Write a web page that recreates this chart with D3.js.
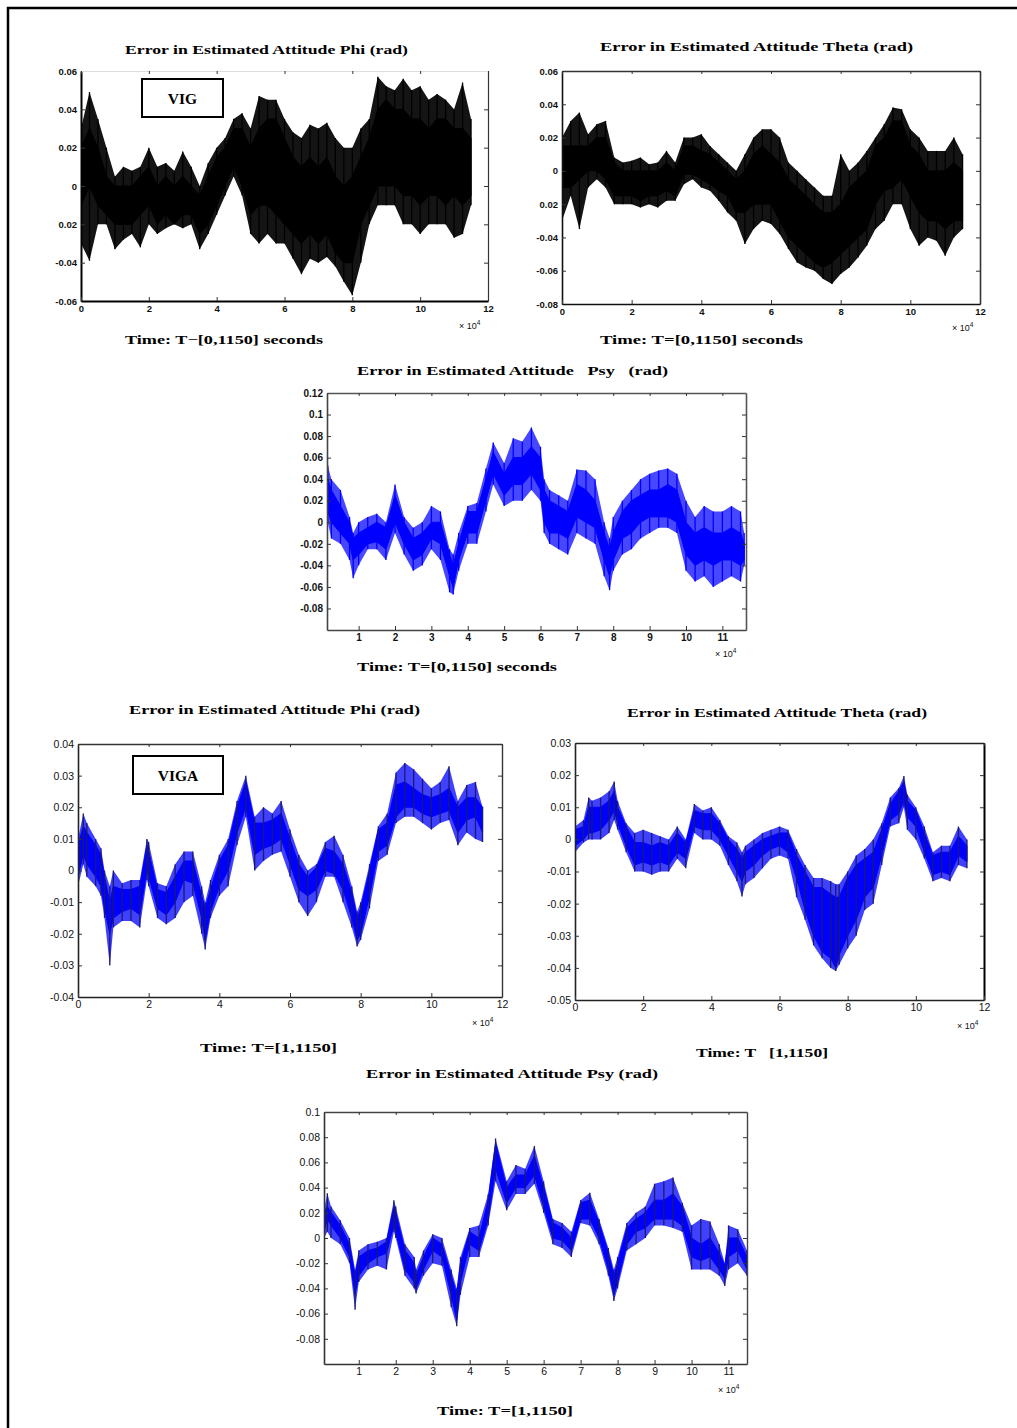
<!DOCTYPE html>
<html>
<head>
<meta charset="utf-8">
<script src="https://cdn.jsdelivr.net/npm/d3@7"></script>
<style>
  body { margin: 0; background: #fff; }
  svg { display: block; }
</style>
</head>
<body>
<svg id="fig" width="1017" height="1428"></svg>
<script>
// ---- data (time in units of 1e4, error in rad) ----
// lo/hi = dense noise band, min/max = spike extremes around each sample

// VIG, Phi
const vigPhiT = [0,0.25,0.5,0.75,1,1.25,1.5,1.75,2,2.25,2.5,2.75,3,3.25,3.5,3.75,4,4.25,4.5,4.75,5,5.25,5.5,5.75,6,6.25,6.5,6.75,7,7.25,7.5,7.75,8,8.25,8.5,8.75,9,9.25,9.5,9.75,10,10.25,10.5,10.75,11,11.25,11.5];
const vigPhiLo = [-0.01,0,-0.01,-0.015,-0.02,-0.02,-0.02,-0.015,-0.01,-0.02,-0.015,-0.02,-0.015,-0.015,-0.025,-0.02,-0.01,0,0.01,0,-0.015,-0.01,-0.01,-0.015,-0.02,-0.025,-0.03,-0.025,-0.03,-0.025,-0.035,-0.04,-0.04,-0.02,-0.01,0,0,0,-0.005,-0.005,-0.01,-0.005,-0.005,-0.01,-0.005,-0.01,-0.005];
const vigPhiHi = [0.02,0.03,0.02,0.005,0,0,0,0.005,0.01,0,0.005,0,0.005,0,-0.005,0.005,0.015,0.02,0.03,0.03,0.02,0.03,0.035,0.035,0.025,0.015,0.01,0.015,0.01,0.015,0.005,0,0.005,0.015,0.025,0.04,0.045,0.04,0.04,0.035,0.035,0.03,0.035,0.035,0.03,0.03,0.025];
const vigPhiMin = [-0.03,-0.039,-0.02,-0.02,-0.033,-0.028,-0.025,-0.032,-0.02,-0.025,-0.022,-0.02,-0.022,-0.02,-0.033,-0.025,-0.015,-0.005,0.005,-0.005,-0.025,-0.03,-0.025,-0.03,-0.03,-0.038,-0.046,-0.038,-0.04,-0.037,-0.042,-0.05,-0.057,-0.04,-0.02,-0.01,-0.01,-0.01,-0.02,-0.02,-0.025,-0.02,-0.02,-0.02,-0.027,-0.025,-0.01];
const vigPhiMax = [0.03,0.049,0.035,0.02,0.005,0.01,0.008,0.01,0.02,0.01,0.012,0.008,0.018,0.01,0,0.012,0.02,0.025,0.035,0.038,0.03,0.047,0.045,0.045,0.035,0.028,0.025,0.032,0.03,0.033,0.025,0.02,0.02,0.03,0.035,0.057,0.052,0.05,0.056,0.05,0.052,0.045,0.048,0.045,0.04,0.054,0.035];

// VIG, Theta
const vigThetaT = [0,0.25,0.5,0.75,1,1.25,1.5,1.75,2,2.25,2.5,2.75,3,3.25,3.5,3.75,4,4.25,4.5,4.75,5,5.25,5.5,5.75,6,6.25,6.5,6.75,7,7.25,7.5,7.75,8,8.25,8.5,8.75,9,9.25,9.5,9.75,10,10.25,10.5,10.75,11,11.25,11.5];
const vigThetaLo = [-0.01,-0.01,-0.005,0,0,-0.005,-0.015,-0.015,-0.015,-0.018,-0.015,-0.015,-0.012,-0.015,-0.002,-0.002,-0.005,-0.008,-0.012,-0.015,-0.025,-0.025,-0.02,-0.02,-0.02,-0.03,-0.04,-0.045,-0.05,-0.055,-0.058,-0.055,-0.05,-0.045,-0.04,-0.035,-0.02,-0.012,-0.01,-0.005,-0.015,-0.025,-0.03,-0.03,-0.035,-0.03,-0.03];
const vigThetaHi = [0.015,0.015,0.015,0.015,0.02,0.02,0.005,0,0,0,0,0,0.005,0,0.015,0.015,0.012,0.01,0.005,0,-0.005,0,0.01,0.015,0.01,0.005,-0.005,-0.01,-0.015,-0.02,-0.025,-0.025,-0.02,-0.01,-0.005,0,0.015,0.02,0.03,0.03,0.015,0.01,0,0,0,0.005,0];
const vigThetaMin = [-0.03,-0.015,-0.035,-0.01,-0.005,-0.01,-0.02,-0.02,-0.02,-0.022,-0.02,-0.022,-0.018,-0.018,-0.008,-0.005,-0.01,-0.012,-0.018,-0.025,-0.03,-0.044,-0.035,-0.03,-0.032,-0.038,-0.047,-0.055,-0.058,-0.06,-0.065,-0.068,-0.062,-0.058,-0.052,-0.045,-0.035,-0.03,-0.02,-0.02,-0.035,-0.045,-0.04,-0.042,-0.051,-0.04,-0.035];
const vigThetaMax = [0.02,0.03,0.035,0.022,0.028,0.03,0.008,0.005,0.006,0.008,0.004,0.005,0.012,0.005,0.02,0.02,0.022,0.015,0.01,0.005,0,0.01,0.02,0.025,0.025,0.02,0.005,0,-0.005,-0.01,-0.015,-0.015,0.01,0,0.005,0.012,0.02,0.028,0.038,0.037,0.025,0.02,0.012,0.012,0.012,0.02,0.01];

// VIG, Psy
const vigPsyT = [0.15,0.25,0.5,0.75,0.85,1,1.25,1.5,1.75,2,2.25,2.5,2.75,3,3.25,3.5,3.6,3.75,4,4.25,4.5,4.7,5,5.25,5.5,5.75,6,6.1,6.25,6.5,6.75,7,7.25,7.5,7.75,7.9,8,8.25,8.5,8.75,9,9.25,9.5,9.75,10,10.25,10.5,10.75,11,11.25,11.5,11.6];
const vigPsyLo = [0.01,0,-0.01,-0.02,-0.035,-0.03,-0.02,-0.018,-0.025,0,-0.02,-0.035,-0.03,-0.015,-0.02,-0.05,-0.06,-0.035,-0.01,-0.01,0.02,0.045,0.025,0.035,0.035,0.045,0.03,0,-0.01,-0.01,-0.015,0.005,0,-0.005,-0.035,-0.05,-0.035,-0.015,-0.01,0,0.005,0.005,0.005,0,-0.03,-0.04,-0.035,-0.04,-0.035,-0.035,-0.04,-0.035];
const vigPsyHi = [0.04,0.03,0.015,0,-0.015,-0.01,-0.005,0,-0.005,0.025,0,-0.015,-0.01,0,0,-0.03,-0.04,-0.02,0.01,0.01,0.04,0.065,0.045,0.06,0.06,0.07,0.06,0.03,0.02,0.015,0.01,0.035,0.03,0.02,-0.01,-0.025,-0.01,0.01,0.02,0.025,0.03,0.03,0.035,0.03,0,-0.01,-0.005,-0.01,-0.01,-0.005,-0.01,-0.02];
const vigPsyMin = [0,-0.015,-0.02,-0.035,-0.052,-0.04,-0.025,-0.025,-0.035,-0.01,-0.03,-0.045,-0.04,-0.025,-0.035,-0.065,-0.067,-0.045,-0.02,-0.02,0.01,0.035,0.015,0.02,0.02,0.03,0.02,-0.01,-0.02,-0.025,-0.03,-0.01,-0.015,-0.02,-0.05,-0.063,-0.045,-0.03,-0.025,-0.015,-0.01,-0.005,-0.005,-0.01,-0.045,-0.055,-0.05,-0.06,-0.055,-0.05,-0.055,-0.04];
const vigPsyMax = [0.053,0.04,0.03,0.005,-0.01,0,0.005,0.008,0,0.035,0.005,-0.005,0,0.015,0.01,-0.025,-0.03,-0.01,0.015,0.018,0.05,0.074,0.055,0.078,0.075,0.088,0.07,0.04,0.03,0.025,0.02,0.049,0.048,0.04,0,-0.015,0.005,0.02,0.03,0.04,0.045,0.048,0.05,0.045,0.02,0.005,0.015,0.01,0.01,0.015,0.01,-0.01];

// VIGA, Phi
const vigaPhiT = [0,0.15,0.25,0.5,0.65,0.75,0.9,1,1.25,1.5,1.75,1.95,2,2.25,2.5,2.75,3,3.25,3.5,3.6,3.75,4,4.25,4.5,4.75,5,5.25,5.5,5.75,6,6.25,6.5,6.75,7,7.25,7.5,7.75,7.9,8,8.25,8.5,8.75,9,9.25,9.5,9.75,10,10.25,10.5,10.75,11,11.25,11.45];
const vigaPhiLo = [-0.002,0.005,0.002,-0.002,-0.005,-0.012,-0.02,-0.015,-0.013,-0.012,-0.014,0,-0.002,-0.012,-0.014,-0.01,-0.003,-0.004,-0.015,-0.022,-0.013,-0.005,0,0.012,0.02,0.005,0.007,0.008,0.01,0.002,-0.006,-0.008,-0.006,0,-0.001,-0.006,-0.015,-0.022,-0.02,-0.008,0.006,0.008,0.017,0.02,0.02,0.018,0.017,0.018,0.019,0.012,0.016,0.017,0.012];
const vigaPhiHi = [0.008,0.014,0.012,0.008,0.005,-0.002,-0.01,-0.005,-0.006,-0.006,-0.005,0.008,0.006,-0.006,-0.007,-0.002,0.003,0.003,-0.008,-0.012,-0.006,0.003,0.008,0.02,0.028,0.015,0.015,0.016,0.018,0.01,0.002,-0.002,0.001,0.007,0.006,0.002,-0.007,-0.015,-0.012,0,0.013,0.015,0.027,0.028,0.026,0.024,0.023,0.024,0.026,0.02,0.023,0.023,0.02];
const vigaPhiMin = [-0.005,0.002,-0.002,-0.005,-0.008,-0.015,-0.03,-0.018,-0.016,-0.016,-0.018,-0.003,-0.005,-0.015,-0.017,-0.015,-0.01,-0.008,-0.02,-0.025,-0.015,-0.008,-0.005,0.008,0.017,0,0.003,0.005,0.006,-0.002,-0.01,-0.0144,-0.01,-0.002,-0.002,-0.01,-0.018,-0.024,-0.022,-0.012,0.003,0.005,0.015,0.017,0.017,0.015,0.013,0.015,0.016,0.008,0.012,0.01,0.009];
const vigaPhiMax = [0.01,0.018,0.015,0.01,0.007,0,-0.005,0,-0.004,-0.003,-0.003,0.01,0.009,-0.004,-0.005,0.002,0.006,0.006,-0.005,-0.01,-0.003,0.005,0.01,0.022,0.03,0.017,0.02,0.018,0.022,0.013,0.005,0,0.002,0.009,0.011,0.005,-0.005,-0.013,-0.01,0.002,0.014,0.018,0.031,0.034,0.032,0.029,0.026,0.028,0.033,0.022,0.027,0.028,0.02];

// VIGA, Theta
const vigaThetaT = [0,0.25,0.4,0.5,0.75,1,1.15,1.25,1.5,1.75,2,2.25,2.5,2.75,3,3.25,3.5,3.75,4,4.25,4.5,4.75,4.9,5,5.25,5.5,5.75,6,6.25,6.5,6.75,7,7.25,7.5,7.65,7.75,8,8.25,8.5,8.75,9,9.25,9.5,9.65,9.75,10,10.25,10.5,10.75,11,11.25,11.5];
const vigaThetaLo = [-0.002,0,0.002,0.002,0.003,0.006,0.009,0.005,-0.002,-0.008,-0.007,-0.008,-0.007,-0.008,-0.004,-0.006,0.004,0.003,0.003,0,-0.005,-0.01,-0.013,-0.01,-0.008,-0.005,-0.003,-0.002,-0.004,-0.012,-0.022,-0.03,-0.035,-0.037,-0.04,-0.036,-0.03,-0.025,-0.018,-0.015,-0.005,0.006,0.008,0.012,0.007,0.004,-0.004,-0.011,-0.01,-0.011,-0.005,-0.007];
const vigaThetaHi = [0.003,0.004,0.01,0.01,0.01,0.012,0.015,0.01,0.004,-0.001,-0.001,-0.002,-0.001,-0.002,0.002,-0.001,0.009,0.008,0.008,0.005,0,-0.003,-0.006,-0.004,-0.002,0,0.001,0.002,0.002,-0.005,-0.01,-0.015,-0.015,-0.017,-0.018,-0.018,-0.012,-0.008,-0.006,-0.004,0.003,0.011,0.015,0.018,0.012,0.009,0.002,-0.005,-0.004,-0.004,0.001,-0.002];
const vigaThetaMin = [-0.004,-0.001,0,0,0,0.002,0.006,0.003,-0.004,-0.01,-0.01,-0.011,-0.01,-0.01,-0.006,-0.009,0.002,0,0,-0.002,-0.008,-0.013,-0.0178,-0.014,-0.012,-0.009,-0.006,-0.005,-0.006,-0.018,-0.025,-0.033,-0.037,-0.04,-0.041,-0.039,-0.034,-0.03,-0.022,-0.02,-0.008,0.004,0.005,0.01,0.003,0,-0.006,-0.013,-0.012,-0.013,-0.008,-0.009];
const vigaThetaMax = [0.004,0.006,0.013,0.012,0.013,0.015,0.018,0.012,0.005,0.002,0.003,0.002,0.001,0,0.004,0,0.011,0.009,0.01,0.006,0.001,-0.001,-0.004,-0.002,0,0.002,0.003,0.004,0.003,-0.003,-0.008,-0.012,-0.012,-0.013,-0.014,-0.014,-0.01,-0.005,-0.003,0,0.005,0.013,0.016,0.0197,0.014,0.01,0.004,-0.004,-0.002,-0.002,0.004,0];

// VIGA, Psy
const vigaPsyT = [0.06,0.15,0.25,0.5,0.75,0.9,1,1.25,1.5,1.75,1.95,2,2.25,2.5,2.55,2.75,3,3.25,3.5,3.65,3.75,4,4.25,4.5,4.7,5,5.25,5.5,5.75,6,6.25,6.5,6.75,7,7.25,7.5,7.75,7.9,8,8.25,8.5,8.75,9,9.25,9.5,9.75,10,10.25,10.5,10.75,10.9,11,11.25,11.5];
const vigaPsyLo = [0.005,0.015,0.01,0,-0.015,-0.045,-0.03,-0.02,-0.015,-0.012,0.01,0.005,-0.025,-0.035,-0.04,-0.025,-0.01,-0.015,-0.045,-0.065,-0.035,-0.005,-0.01,0.015,0.055,0.028,0.04,0.04,0.05,0.025,0,-0.002,-0.01,0.015,0.015,0,-0.025,-0.045,-0.035,-0.005,0.005,0.008,0.015,0.015,0.015,0.01,-0.015,-0.018,-0.015,-0.025,-0.032,-0.015,-0.01,-0.025];
const vigaPsyHi = [0.02,0.025,0.02,0.01,-0.005,-0.03,-0.015,-0.01,-0.008,-0.003,0.025,0.02,-0.01,-0.02,-0.03,-0.015,0,-0.005,-0.03,-0.045,-0.02,0.005,0,0.03,0.075,0.04,0.05,0.05,0.065,0.04,0.012,0.008,0,0.028,0.03,0.012,-0.012,-0.03,-0.02,0.008,0.015,0.02,0.03,0.03,0.035,0.025,0,-0.005,0,-0.012,-0.022,0,0,-0.015];
const vigaPsyMin = [0,0.005,0,-0.005,-0.02,-0.057,-0.035,-0.025,-0.022,-0.025,0.005,0,-0.03,-0.04,-0.044,-0.03,-0.02,-0.022,-0.055,-0.07,-0.045,-0.015,-0.015,0.01,0.045,0.022,0.035,0.035,0.043,0.02,-0.005,-0.008,-0.015,0.012,0.01,-0.005,-0.03,-0.05,-0.04,-0.01,-0.005,0,0.01,0.01,0.008,0.005,-0.025,-0.025,-0.025,-0.03,-0.038,-0.025,-0.02,-0.03];
const vigaPsyMax = [0.022,0.0356,0.025,0.014,0,-0.025,-0.01,-0.005,-0.003,0,0.03,0.025,-0.005,-0.015,-0.025,-0.01,0.003,0,-0.025,-0.04,-0.015,0.008,0.01,0.035,0.079,0.045,0.058,0.055,0.073,0.045,0.015,0.012,0.005,0.03,0.036,0.015,-0.008,-0.025,-0.015,0.012,0.02,0.025,0.043,0.045,0.048,0.028,0.01,0.015,0.013,-0.005,-0.02,0.01,0.007,-0.01];

// ---- ticks and labels ----
const xTicksEven = [0,2,4,6,8,10,12];
const xTicksUnit = [1,2,3,4,5,6,7,8,9,10,11];
const vigPhiYTicks = [0.06,0.04,0.02,0,-0.02,-0.04,-0.06];
const vigPhiYLabels = ["0.06","0.04","0.02","0","0.02","-0.04","-0.06"];
const vigThetaYTicks = [0.06,0.04,0.02,0,-0.02,-0.04,-0.06,-0.08];
const vigThetaYLabels = ["0.06","0.04","0.02","0","0.02","-0.04","-0.06","-0.08"];
const psyYTicks = [0.12,0.1,0.08,0.06,0.04,0.02,0,-0.02,-0.04,-0.06,-0.08];
const psyYLabels = ["0.12","0.1","0.08","0.06","0.04","0.02","0","-0.02","-0.04","-0.06","-0.08"];
const vigaPhiYTicks = [0.04,0.03,0.02,0.01,0,-0.01,-0.02,-0.03,-0.04];
const vigaPhiYLabels = ["0.04","0.03","0.02","0.01","0","-0.01","-0.02","-0.03","-0.04"];
const vigaThetaYTicks = [0.03,0.02,0.01,0,-0.01,-0.02,-0.03,-0.04,-0.05];
const vigaThetaYLabels = ["0.03","0.02","0.01","0","-0.01","-0.02","-0.03","-0.04","-0.05"];
const vigaPsyYTicks = [0.1,0.08,0.06,0.04,0.02,0,-0.02,-0.04,-0.06,-0.08];
const vigaPsyYLabels = ["0.1","0.08","0.06","0.04","0.02","0","-0.02","-0.04","-0.06","-0.08"];

const BLUE = "#0000ff";
const svg = d3.select("#fig");
svg.append("rect").attr("width", 1017).attr("height", 1428).attr("fill", "#fff");

// page frame (top and left edges only)
svg.append("line").attr("x1", 7).attr("x2", 1017).attr("y1", 8).attr("y2", 8)
    .attr("stroke", "#000").attr("stroke-width", 2.5);
svg.append("line").attr("x1", 8).attr("x2", 8).attr("y1", 7).attr("y2", 1428)
    .attr("stroke", "#000").attr("stroke-width", 2.5);

const panels = [
    { id: 1, left: 81, right: 488, top: 71, bottom: 301, xDomain: [0, 12], yDomain: [-0.06, 0.06],
      t: vigPhiT, lo: vigPhiLo, hi: vigPhiHi, min: vigPhiMin, max: vigPhiMax,
      color: "#000", spike: "#000", outer: 0.92,
      xTicks: xTicksEven, yTicks: vigPhiYTicks, yLabels: vigPhiYLabels,
      tickFont: 9.5, tickWeight: "bold",
      edge: { left: ["#000", 2], bottom: ["#000", 2], right: ["#333", 1.2], top: ["#ddd", 1] },
      title: "Error in Estimated Attitude Phi (rad)", titleX: 125, titleW: 283, titleY: 54,
      xlabel: "Time: T\u2212[0,1150] seconds", xlabelX: 125, xlabelW: 198, xlabelY: 344,
      expX: 459, expY: 329, tag: "VIG", tagBox: [142, 79, 223, 117] },
    { id: 2, left: 562, right: 980, top: 71, bottom: 304, xDomain: [0, 12], yDomain: [-0.08, 0.06],
      t: vigThetaT, lo: vigThetaLo, hi: vigThetaHi, min: vigThetaMin, max: vigThetaMax,
      color: "#000", spike: "#000", outer: 0.92,
      xTicks: xTicksEven, yTicks: vigThetaYTicks, yLabels: vigThetaYLabels,
      tickFont: 9.5, tickWeight: "bold",
      edge: { left: ["#111", 1.6], bottom: ["#111", 1.6], right: ["#333", 1.6], top: ["#333", 1.4] },
      title: "Error in Estimated Attitude Theta (rad)", titleX: 600, titleW: 313, titleY: 51,
      xlabel: "Time: T=[0,1150] seconds", xlabelX: 600, xlabelW: 203, xlabelY: 344,
      expX: 952, expY: 331 },
    { id: 3, left: 327, right: 746, top: 393, bottom: 630, xDomain: [0.13, 11.65], yDomain: [-0.1, 0.12],
      t: vigPsyT, lo: vigPsyLo, hi: vigPsyHi, min: vigPsyMin, max: vigPsyMax,
      color: BLUE, spike: BLUE, outer: 0.72,
      xTicks: xTicksUnit, yTicks: psyYTicks, yLabels: psyYLabels,
      tickFont: 10, tickWeight: "bold",
      edge: { left: ["#444", 1.6], bottom: ["#444", 1.6], right: ["#555", 1.6], top: ["#555", 1.4] },
      title: "Error in Estimated Attitude   Psy   (rad)", titleX: 357, titleW: 311, titleY: 375,
      xlabel: "Time: T=[0,1150] seconds", xlabelX: 357, xlabelW: 200, xlabelY: 671,
      expX: 715, expY: 657 },
    { id: 4, left: 78, right: 502, top: 744, bottom: 997, xDomain: [0, 12], yDomain: [-0.04, 0.04],
      t: vigaPhiT, lo: vigaPhiLo, hi: vigaPhiHi, min: vigaPhiMin, max: vigaPhiMax,
      color: BLUE, spike: "#1a1a70", outer: 0.75,
      xTicks: xTicksEven, yTicks: vigaPhiYTicks, yLabels: vigaPhiYLabels,
      tickFont: 10.5, tickWeight: "normal",
      edge: { left: ["#222", 1.6], bottom: ["#222", 1.6], right: ["#333", 1.4], top: ["#333", 1.4] },
      title: "Error in Estimated Attitude Phi (rad)", titleX: 129, titleW: 291, titleY: 714,
      xlabel: "Time: T=[1,1150]", xlabelX: 200, xlabelW: 137, xlabelY: 1052,
      expX: 472, expY: 1026, tag: "VIGA", tagBox: [133, 756, 223, 794] },
    { id: 5, left: 575, right: 984, top: 743, bottom: 1000, xDomain: [0, 12], yDomain: [-0.05, 0.03],
      t: vigaThetaT, lo: vigaThetaLo, hi: vigaThetaHi, min: vigaThetaMin, max: vigaThetaMax,
      color: BLUE, spike: "#1a1a70", outer: 0.75,
      xTicks: xTicksEven, yTicks: vigaThetaYTicks, yLabels: vigaThetaYLabels,
      tickFont: 10.5, tickWeight: "normal",
      edge: { left: ["#222", 1.6], bottom: ["#222", 1.6], right: ["#000", 2], top: ["#222", 1.6] },
      title: "Error in Estimated Attitude Theta (rad)", titleX: 627, titleW: 300, titleY: 717,
      xlabel: "Time: T   [1,1150]", xlabelX: 696, xlabelW: 132, xlabelY: 1057,
      expX: 957, expY: 1029 },
    { id: 6, left: 324, right: 747, top: 1112, bottom: 1364, xDomain: [0.06, 11.5], yDomain: [-0.1, 0.1],
      t: vigaPsyT, lo: vigaPsyLo, hi: vigaPsyHi, min: vigaPsyMin, max: vigaPsyMax,
      color: BLUE, spike: "#1a1a70", outer: 0.75,
      xTicks: xTicksUnit, yTicks: vigaPsyYTicks, yLabels: vigaPsyYLabels,
      tickFont: 10.5, tickWeight: "normal",
      edge: { left: ["#333", 1.6], bottom: ["#333", 1.6], right: ["#444", 1.4], top: ["#444", 1.4] },
      title: "Error in Estimated Attitude Psy (rad)", titleX: 366, titleW: 292, titleY: 1078,
      xlabel: "Time: T=[1,1150]", xlabelX: 437, xlabelW: 136, xlabelY: 1415,
      expX: 718, expY: 1393 }
];

function styleAxis(sel, p, stroke, width, showText) {
    sel.select(".domain").attr("stroke", stroke).attr("stroke-width", width);
    sel.selectAll(".tick line").attr("stroke", "#333").attr("stroke-width", 1);
    sel.selectAll(".tick text")
        .attr("fill", "#111")
        .attr("font-family", "'Liberation Sans', Arial, sans-serif")
        .attr("font-size", p.tickFont)
        .attr("font-weight", p.tickWeight)
        .style("display", showText ? null : "none");
}

function drawPanel(p) {
    const x = d3.scaleLinear().domain(p.xDomain).range([p.left, p.right]);
    const y = d3.scaleLinear().domain(p.yDomain).range([p.bottom, p.top]);
    const g = svg.append("g").attr("class", "panel-" + p.id);

    const clipId = "clip-" + p.id;
    svg.append("clipPath").attr("id", clipId)
        .append("rect")
        .attr("x", p.left).attr("y", p.top)
        .attr("width", p.right - p.left).attr("height", p.bottom - p.top);

    const pts = p.t.map((t, i) => ({ t, lo: p.lo[i], hi: p.hi[i], mn: p.min[i], mx: p.max[i] }));
    const plot = g.append("g").attr("clip-path", `url(#${clipId})`);

    // spike envelope
    plot.append("path").datum(pts)
        .attr("d", d3.area().x(d => x(d.t)).y0(d => y(d.mn)).y1(d => y(d.mx)))
        .attr("fill", p.color).attr("fill-opacity", p.outer);

    // dense band
    plot.append("path").datum(pts)
        .attr("d", d3.area().x(d => x(d.t)).y0(d => y(d.lo)).y1(d => y(d.hi)))
        .attr("fill", p.color).attr("stroke", p.color).attr("stroke-width", 1);

    // spikes
    plot.selectAll("line.spike").data(pts).join("line")
        .attr("class", "spike")
        .attr("x1", d => x(d.t)).attr("x2", d => x(d.t))
        .attr("y1", d => y(d.mn)).attr("y2", d => y(d.mx))
        .attr("stroke", p.spike).attr("stroke-width", 1.3);

    // axes, ticks pointing inwards
    const left = g.append("g").attr("transform", `translate(${p.left},0)`)
        .call(d3.axisLeft(y).tickValues(p.yTicks).tickFormat((d, i) => p.yLabels[i])
            .tickSizeInner(-4).tickSizeOuter(0).tickPadding(4));
    styleAxis(left, p, p.edge.left[0], p.edge.left[1], true);

    const right = g.append("g").attr("transform", `translate(${p.right},0)`)
        .call(d3.axisRight(y).tickValues(p.yTicks).tickSizeInner(-4).tickSizeOuter(0));
    styleAxis(right, p, p.edge.right[0], p.edge.right[1], false);

    const top = g.append("g").attr("transform", `translate(0,${p.top})`)
        .call(d3.axisTop(x).tickValues(p.xTicks).tickSizeInner(-3).tickSizeOuter(0));
    styleAxis(top, p, p.edge.top[0], p.edge.top[1], false);

    const bottom = g.append("g").attr("transform", `translate(0,${p.bottom})`)
        .call(d3.axisBottom(x).tickValues(p.xTicks).tickFormat(d3.format("d"))
            .tickSizeInner(-4).tickSizeOuter(0).tickPadding(4));
    styleAxis(bottom, p, p.edge.bottom[0], p.edge.bottom[1], true);

    // title and x label
    g.append("text")
        .attr("x", p.titleX).attr("y", p.titleY)
        .attr("textLength", p.titleW).attr("lengthAdjust", "spacingAndGlyphs")
        .attr("font-family", "'Liberation Serif', 'Times New Roman', serif")
        .attr("font-weight", "bold").attr("font-size", 12.5)
        .attr("xml:space", "preserve")
        .text(p.title);

    g.append("text")
        .attr("x", p.xlabelX).attr("y", p.xlabelY)
        .attr("textLength", p.xlabelW).attr("lengthAdjust", "spacingAndGlyphs")
        .attr("font-family", "'Liberation Serif', 'Times New Roman', serif")
        .attr("font-weight", "bold").attr("font-size", 12.5)
        .attr("xml:space", "preserve")
        .text(p.xlabel);

    // x 10^4 multiplier
    const ex = g.append("text")
        .attr("x", p.expX).attr("y", p.expY)
        .attr("font-family", "'Liberation Sans', Arial, sans-serif")
        .attr("font-size", 9).attr("fill", "#111");
    ex.append("tspan").text("\u00d7 10");
    ex.append("tspan").attr("dy", -4).attr("font-size", 6.5).text("4");

    if (p.tag) {
        const [x0, y0, x1, y1] = p.tagBox;
        g.append("rect")
            .attr("x", x0).attr("y", y0).attr("width", x1 - x0).attr("height", y1 - y0)
            .attr("fill", "#fff").attr("stroke", "#000").attr("stroke-width", 2);
        g.append("text")
            .attr("x", (x0 + x1) / 2).attr("y", (y0 + y1) / 2 + 5.5)
            .attr("text-anchor", "middle")
            .attr("font-family", "'Liberation Serif', 'Times New Roman', serif")
            .attr("font-weight", "bold").attr("font-size", 15.5)
            .text(p.tag);
    }
}

panels.forEach(drawPanel);
</script>
</body>
</html>
